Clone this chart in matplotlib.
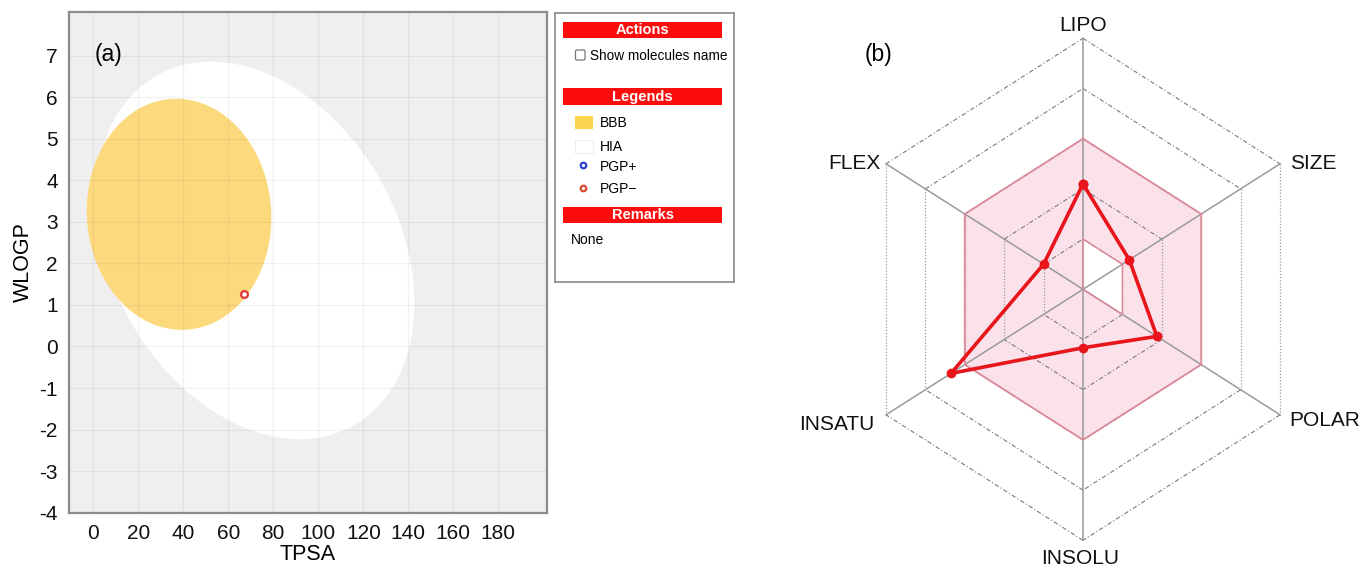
import numpy as np
import matplotlib
matplotlib.use("Agg")
import matplotlib.pyplot as plt
from matplotlib.patches import Polygon, Rectangle, FancyBboxPatch, PathPatch
from matplotlib.path import Path

plt.rcParams['font.family'] = ['Liberation Sans', 'DejaVu Sans']

# ---------------- BOILED-Egg data ----------------
x_ticks = [0, 20, 40, 60, 80, 100, 120, 140, 160, 180]
y_ticks = [7, 6, 5, 4, 3, 2, 1, 0, -1, -2, -3, -4]

# ellipse regions: centre, half-extent in x and y, x/y correlation
hia_center = (72.0, 2.31)
hia_extent = (70.7, 4.54)
hia_corr = -0.28
bbb_center = (38.1, 3.18)
bbb_extent = (41.0, 2.78)
bbb_corr = -0.03

molecule_tpsa = [66.8]
molecule_wlogp = [1.27]

# ---------------- Bioavailability radar data ----------------
radar_axes = ["LIPO", "SIZE", "POLAR", "INSOLU", "INSATU", "FLEX"]
radar_values = [0.42, 0.235, 0.375, 0.233, 0.67, 0.20]
optimal_low = [0.2, 0.2, 0.2, 0.0, 0.0, 0.0]
optimal_high = [0.6, 0.6, 0.6, 0.6, 0.6, 0.6]
grid_levels = [0.2, 0.4, 0.6, 0.8, 1.0]

W, H = 1362, 569
fig = plt.figure(figsize=(W / 100, H / 100), dpi=100)


def fig_rect(x0, y0, x1, y1):
    return [x0 / W, 1 - y1 / H, (x1 - x0) / W, (y1 - y0) / H]


def ellipse_pts(center, extent, corr, n=300):
    t = np.linspace(0, 2 * np.pi, n)
    cx, cy = center
    sx, sy = extent
    x = cx + sx * np.cos(t)
    y = cy + sy * (corr * np.cos(t) + np.sqrt(1 - corr ** 2) * np.sin(t))
    return np.column_stack([x, y])


# ---------------- panel (a) ----------------
ax = fig.add_axes(fig_rect(69, 12.3, 546.7, 512.7))
ax.set_facecolor('#efefef')
ax.set_xlim(-10.8, 201.5)
ax.set_ylim(-4, 8.04)

ax.add_patch(Polygon(ellipse_pts(hia_center, hia_extent, hia_corr),
                     closed=True, facecolor='#ffffff', edgecolor='none', zorder=1))
ax.add_patch(Polygon(ellipse_pts(bbb_center, bbb_extent, bbb_corr),
                     closed=True, facecolor='#fdd97e', edgecolor='none', zorder=2))

for xv in x_ticks:
    ax.axvline(xv, color=(0, 0, 0, 0.05), lw=0.9, zorder=3)
for yv in y_ticks:
    ax.axhline(yv, color=(0, 0, 0, 0.05), lw=0.9, zorder=3)

ax.scatter(molecule_tpsa, molecule_wlogp, s=24, facecolor='white',
           edgecolor='#e2403a', linewidth=1.7, zorder=5)

ax.set_xticks(x_ticks)
ax.set_yticks(y_ticks)
ax.set_xticklabels([str(v) for v in x_ticks])
ax.set_yticklabels([str(v) for v in y_ticks])
ax.tick_params(length=0, labelsize=15, pad=8, colors='#111111')
ax.set_xlabel('TPSA', fontsize=15.5, labelpad=1)
ax.set_ylabel('WLOGP', fontsize=15.5, labelpad=4)
for sp in ax.spines.values():
    sp.set_color('#8c8c8c')
    sp.set_linewidth(1.6)
ax.text(0.053, 0.915, '(a)', transform=ax.transAxes, fontsize=16.5,
        ha='left', va='center')

# ---------------- legend panel ----------------
lg = fig.add_axes(fig_rect(555, 13.3, 734.3, 281.7))
lg.set_xlim(555, 734.3)
lg.set_ylim(281.7, 13.3)
lg.set_xticks([])
lg.set_yticks([])
for sp in lg.spines.values():
    sp.set_color('#8a8a8a')
    sp.set_linewidth(1.2)

for title, y0, y1 in [("Actions", 21.7, 38.3), ("Legends", 88.3, 105),
                      ("Remarks", 206.7, 223.3)]:
    lg.add_patch(Rectangle((563.3, y0), 159, y1 - y0, facecolor='#fb0d0d',
                           edgecolor='none'))
    lg.text(642.8, (y0 + y1) / 2 + 0.5, title, color='white', fontsize=10.5,
            fontweight='bold', ha='center', va='center')

lg.add_patch(FancyBboxPatch((575.5, 50), 9.5, 10, boxstyle='round,pad=0,rounding_size=1.5',
                            facecolor='white', edgecolor='#777777', lw=0.9))
lg.text(590, 55.7, 'Show molecules name', fontsize=9.8, ha='left', va='center')

lg.add_patch(Rectangle((574.5, 116), 18, 13.3, facecolor='#fcd44f', edgecolor='none'))
lg.text(600, 123.3, 'BBB', fontsize=10, ha='left', va='center')
lg.add_patch(Rectangle((574.5, 139.5), 18, 13.3, facecolor='white', edgecolor='#eeeeee', lw=0.8))
lg.text(600, 146.7, 'HIA', fontsize=10, ha='left', va='center')
lg.scatter([582.7], [165.5], s=16, facecolor='white', edgecolor='#2a3fd4', lw=1.6)
lg.text(600, 166.7, 'PGP+', fontsize=10, ha='left', va='center')
lg.scatter([582.7], [187.7], s=16, facecolor='white', edgecolor='#e0482c', lw=1.6)
lg.text(600, 189.3, 'PGP\u2212', fontsize=10, ha='left', va='center')
lg.text(570.7, 240, 'None', fontsize=10, ha='left', va='center')

# ---------------- panel (b): radar ----------------
cx_px, cy_px = 1083.0, 289.3
rx_px, ry_px = 227.5, 251.0
rx0, rx1 = 790, 1362
rad = fig.add_axes(fig_rect(rx0, 0, rx1, H))
rad.set_xlim((rx0 - cx_px) / rx_px, (rx1 - cx_px) / rx_px)
rad.set_ylim(-(H - cy_px) / ry_px, cy_px / ry_px)
rad.axis('off')

n = len(radar_axes)
angles = np.deg2rad(90 - 60 * np.arange(n))
ux, uy = np.cos(angles), np.sin(angles)


def ring(r):
    r = np.asarray(r, dtype=float) * np.ones(n)
    return np.column_stack([r * ux, r * uy])


# optimal (pink) zone with a hole where the lower bound is above zero
outer = ring(optimal_high)
inner = ring(optimal_low)
verts = np.vstack([outer, outer[:1], inner[::-1], inner[-1:]])
codes = ([Path.MOVETO] + [Path.LINETO] * (n - 1) + [Path.CLOSEPOLY] +
         [Path.MOVETO] + [Path.LINETO] * (n - 1) + [Path.CLOSEPOLY])
rad.add_patch(PathPatch(Path(verts, codes), facecolor='#fbe1ea', edgecolor='none', zorder=1))
rad.add_patch(Polygon(outer, closed=True, facecolor='none', edgecolor='#dc8a98', lw=1.3, zorder=3))
rad.add_patch(Polygon(inner, closed=True, facecolor='none', edgecolor='#dc8a98', lw=1.1, zorder=3))

# grid hexagons: slanted edges dash-dot, vertical edges dotted
for lvl in grid_levels:
    pts = ring(lvl)
    for i in range(n):
        p, q = pts[i], pts[(i + 1) % n]
        vertical = abs(p[0] - q[0]) < 1e-9
        if vertical:
            rad.plot([p[0], q[0]], [p[1], q[1]], color='#9a9a9a', lw=0.9,
                     ls=(0, (1, 1.5)), zorder=2)
        else:
            rad.plot([p[0], q[0]], [p[1], q[1]], color='#7a7a7a', lw=0.8,
                     ls=(0, (4, 2, 1, 2)), zorder=2)

# spokes
for i in range(n):
    rad.plot([0, ux[i]], [0, uy[i]], color='#9a9a9a', lw=1.1, zorder=2)

# molecule profile
prof = ring(radar_values)
prof_closed = np.vstack([prof, prof[:1]])
rad.plot(prof_closed[:, 0], prof_closed[:, 1], color='#e8151a', lw=2.6,
         marker='o', markersize=6, zorder=5)

# axis names
label_offsets = {
    "LIPO": (0, 9, 'center', 'center'),
    "SIZE": (7, 0, 'left', 'center'),
    "POLAR": (7, -4, 'left', 'center'),
    "INSOLU": (-2, -13, 'center', 'center'),
    "INSATU": (-8, -7, 'right', 'center'),
    "FLEX": (-4, 0, 'right', 'center'),
}
for i, name in enumerate(radar_axes):
    dx, dy, ha, va = label_offsets[name]
    rad.annotate(name, xy=(ux[i], uy[i]), xytext=(dx, dy), textcoords='offset points',
                 ha=ha, va=va, fontsize=15, color='#111111')

rad.text((879 - cx_px) / rx_px, (cy_px - 55) / ry_px, '(b)', fontsize=16.5,
         ha='center', va='center')

fig.savefig('out.png', dpi=100, facecolor='white')
